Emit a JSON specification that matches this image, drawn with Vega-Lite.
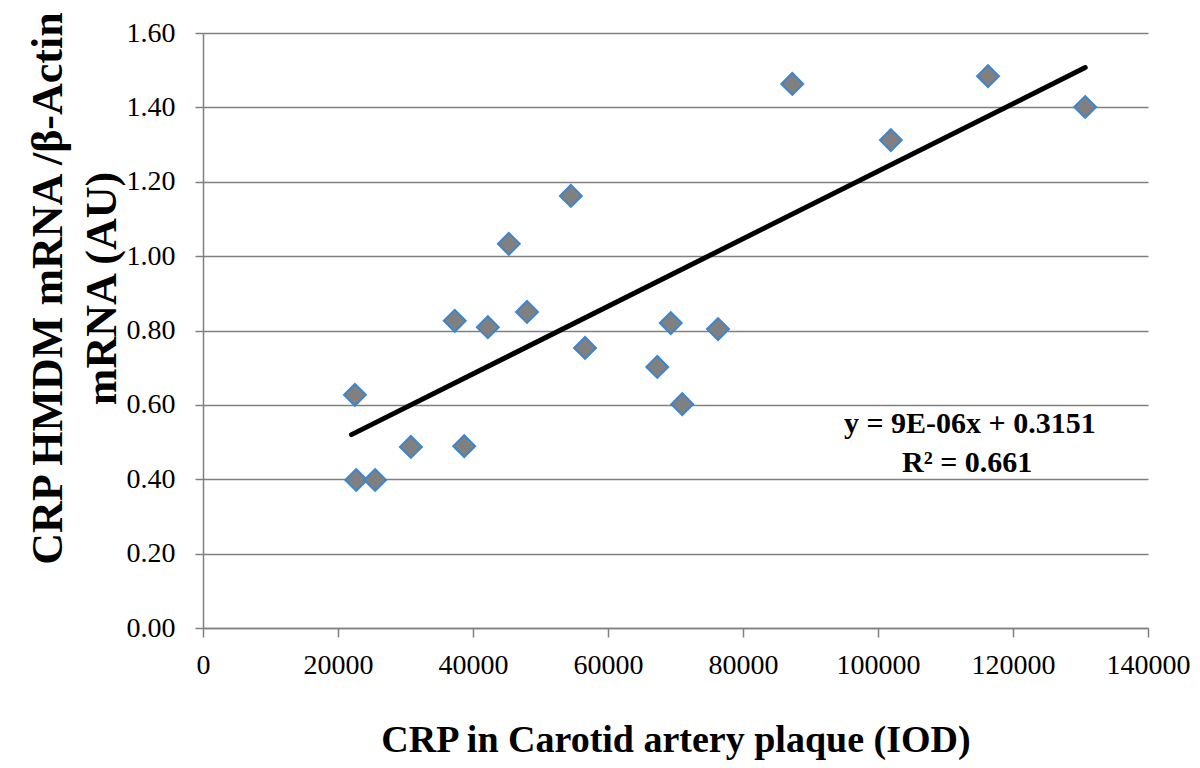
{
  "$schema": "https://vega.github.io/schema/vega-lite/v6.json",
  "width": 945,
  "height": 595,
  "autosize": "none",
  "padding": {"left": 203, "top": 33, "right": 52, "bottom": 140},
  "background": "white",
  "config": {
    "view": {"stroke": null},
    "font": "Liberation Serif"
  },
  "datasets": {
    "pts": [
      {"crp": 22500, "ratio": 0.627},
      {"crp": 22700, "ratio": 0.398},
      {"crp": 25500, "ratio": 0.398},
      {"crp": 30800, "ratio": 0.487},
      {"crp": 37300, "ratio": 0.826},
      {"crp": 38700, "ratio": 0.489},
      {"crp": 42200, "ratio": 0.809},
      {"crp": 45300, "ratio": 1.033},
      {"crp": 48000, "ratio": 0.850},
      {"crp": 54500, "ratio": 1.162},
      {"crp": 56600, "ratio": 0.753},
      {"crp": 67300, "ratio": 0.702},
      {"crp": 69300, "ratio": 0.820},
      {"crp": 71000, "ratio": 0.602},
      {"crp": 76300, "ratio": 0.804},
      {"crp": 87300, "ratio": 1.463},
      {"crp": 101900, "ratio": 1.312},
      {"crp": 116300, "ratio": 1.484},
      {"crp": 130700, "ratio": 1.401}
    ],
    "trend": [
      {"crp": 22000, "ratio": 0.520},
      {"crp": 130700, "ratio": 1.507}
    ],
    "eq": [
      {"crp": 113600, "ratio": 0.548, "label": "y = 9E-06x + 0.3151"},
      {"crp": 113200, "ratio": 0.443, "label": "R² = 0.661"}
    ]
  },
  "layer": [
    {
      "data": {"name": "trend"},
      "mark": {"type": "line", "color": "black", "strokeWidth": 5, "strokeCap": "round"},
      "encoding": {
        "x": {
          "field": "crp", "type": "quantitative",
          "scale": {"domain": [0, 140000], "nice": false, "zero": false},
          "axis": {
            "values": [0, 20000, 40000, 60000, 80000, 100000, 120000, 140000],
            "format": "d",
            "grid": false,
            "domainColor": "#808080", "domainWidth": 1.5,
            "tickColor": "#808080", "tickWidth": 1.5, "tickSize": 9,
            "labelFontSize": 28, "labelColor": "black", "labelPadding": 14,
            "labelFlush": false,
            "title": "CRP in Carotid artery  plaque (IOD)",
            "titleFontSize": 38, "titleFontWeight": "bold", "titleColor": "black",
            "titlePadding": 42
          }
        },
        "y": {
          "field": "ratio", "type": "quantitative",
          "scale": {"domain": [0, 1.6], "nice": false},
          "axis": {
            "values": [0, 0.2, 0.4, 0.6, 0.8, 1.0, 1.2, 1.4, 1.6],
            "format": ".2f",
            "grid": true, "gridColor": "#808080", "gridWidth": 1.5,
            "domainColor": "#808080", "domainWidth": 1.5,
            "tickColor": "#808080", "tickWidth": 1.5, "tickSize": 8,
            "labelFontSize": 28, "labelColor": "black", "labelPadding": 20,
            "title": ["CRP  HMDM mRNA /β-Actin", "mRNA (AU)"],
            "titleFontSize": 44, "titleFontWeight": "bold", "titleColor": "black",
            "titlePadding": 2, "titleLineHeight": 54, "titleY": 255
          }
        }
      }
    },
    {
      "data": {"name": "pts"},
      "mark": {"type": "point", "shape": "diamond", "filled": true, "fill": "#808080", "stroke": "#3d85cf", "strokeWidth": 2, "size": 480, "opacity": 1},
      "encoding": {
        "x": {"field": "crp", "type": "quantitative"},
        "y": {"field": "ratio", "type": "quantitative"}
      }
    },
    {
      "data": {"name": "eq"},
      "mark": {"type": "text", "fontSize": 30, "fontWeight": "bold", "color": "black", "align": "center", "baseline": "middle"},
      "encoding": {
        "x": {"field": "crp", "type": "quantitative"},
        "y": {"field": "ratio", "type": "quantitative"},
        "text": {"field": "label"}
      }
    }
  ]
}
